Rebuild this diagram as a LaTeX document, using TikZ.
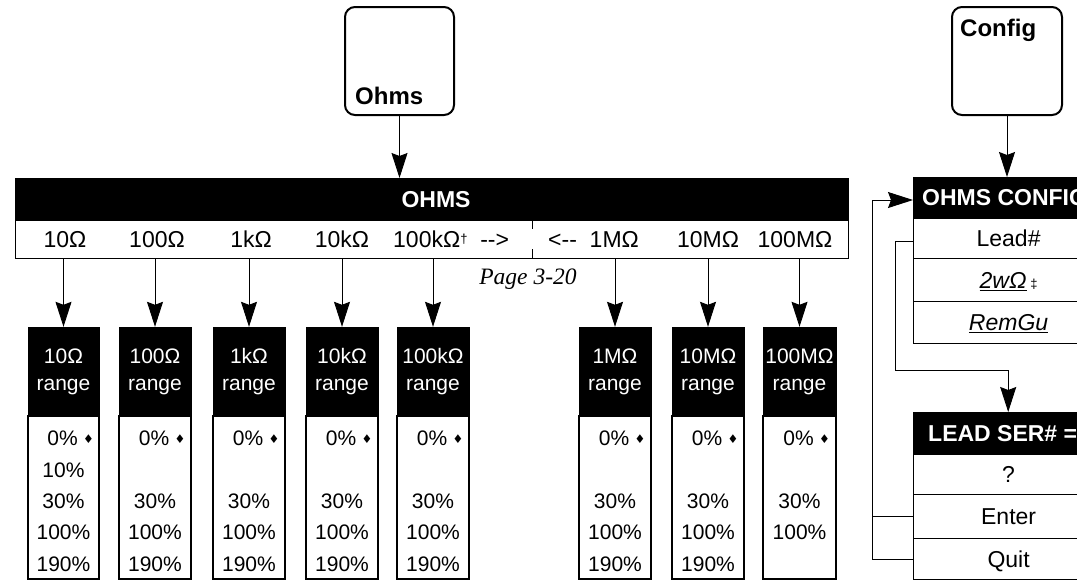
\documentclass[tikz,border=0pt]{standalone}
\usepackage{fontspec}
\setmainfont{Liberation Sans}
\newfontfamily\pgserif{Liberation Serif}
\newfontfamily\dejavu{DejaVu Sans}
\usetikzlibrary{arrows.meta}
\begin{document}
\begin{tikzpicture}[x=1pt,y=-1pt,
  arr/.style={-{Stealth[length=25pt,width=16pt,inset=3pt]}, line width=0.9pt},
  conn/.style={line width=0.9pt},
  keybox/.style={draw, line width=2pt, rounded corners=10pt, minimum height=108pt, inner sep=0},
  keytxt/.style={font=\bfseries\fontsize{24}{28}\selectfont, inner sep=0},
  blackbar/.style={fill=black, draw=black, inner sep=0},
  rowbox/.style={draw, line width=1.2pt, inner sep=0, fill=white},
  rowtxt/.style={font=\fontsize{23}{27}\selectfont, inner sep=0, text height=16.5pt, text depth=0pt},
  hdtxt/.style={font=\bfseries\fontsize{23}{27}\selectfont, text=white, inner sep=0, text height=16.5pt, text depth=0pt},
  rtxt/.style={font=\fontsize{21}{27}\selectfont, inner sep=0, anchor=base},
  rhd/.style={blackbar, font=\fontsize{21}{27}\selectfont, text=white, align=center, minimum height=89pt},
  small/.style={font=\dejavu\fontsize{12}{12}\selectfont, inner sep=0},
]
\useasboundingbox (0,0) rectangle (1077,582);
\clip (0,0) rectangle (1077,582);

% key boxes
\node[keybox, minimum width=109pt] (ohmskey) at (399.5,61) {};
\node[keytxt, anchor=base west] (ohmskeytxt) at (355,104) {Ohms};
\node[keybox, minimum width=110pt] (cfgkey) at (1007,61) {};
\node[keytxt, anchor=base west] (cfgkeytxt) at (960,36) {Config};

% OHMS menu
\node[blackbar, minimum width=833pt, minimum height=42pt, anchor=north west] (ohms) at (15,178) {};
\node[hdtxt] (ohmslbl) at (436,199) {OHMS};
\node[rowbox, minimum width=833pt, minimum height=38pt, anchor=north west] (ohmsrow) at (15,220) {};
\node[rowtxt] (r1) at (65,239) {10Ω};
\node[rowtxt] (r2) at (157,239) {100Ω};
\node[rowtxt] (r3) at (251,239) {1kΩ};
\node[rowtxt] (r4) at (342,239) {10kΩ};
\node[rowtxt, anchor=west] (r5) at (393,239) {100kΩ{\fontsize{13}{13}\selectfont\raisebox{4pt}{†}}\ \ -{}-{}>};
\node[rowtxt, anchor=west] (r6) at (548,239) {<-{}-\ \ 1MΩ};
\node[rowtxt] (r7) at (708,239) {10MΩ};
\node[rowtxt] (r8) at (795,239) {100MΩ};
\coordinate (sepT) at (532,220);
\coordinate (sepB) at (532,258);
\draw[conn] (sepT) -- ++(0,9);
\draw[conn] (sepB) -- ++(0,-9);
\node[font=\pgserif\itshape\fontsize{23.5}{27}\selectfont, anchor=base, inner sep=0] (page) at (528,284) {Page 3-20};

\draw[arr] (ohmskey.south) -- (ohmskey.south |- ohms.north);

% range boxes
\foreach \i/\cx/\w/\lab in {1/63.5/71/10Ω, 2/155/72/100Ω, 3/249/72/1kΩ, 4/342/72/10kΩ, 5/433/72/100kΩ, 6/615/72/1MΩ, 7/708/72/10MΩ, 8/799.5/73/100MΩ}{
  \node[rhd, minimum width=\w pt] (hd\i) at (\cx,371.5) {\lab\\range};
  \node[rowbox, minimum width=\w pt, minimum height=163pt] (bd\i) at (\cx,497.5) {};
  \draw[arr] (ohmsrow.south -| hd\i.north) -- (hd\i.north);
  \node[rtxt] (z\i) at (\cx-1,445) {0\%};
  \node[small, anchor=base west, xshift=5pt, yshift=2pt] (d\i) at (z\i.base east) {♦};
  \ifnum\i=1 \node[rtxt] (t\i) at (\cx,477) {10\%}; \fi
  \node[rtxt] (th\i) at (\cx,508) {30\%};
  \node[rtxt] (h\i) at (\cx,539) {100\%};
  \ifnum\i<8 \node[rtxt] (n\i) at (\cx,571) {190\%}; \fi
}

% OHMS CONFIG menu
\node[blackbar, minimum width=190pt, minimum height=41pt, anchor=north west] (ohc) at (913,177) {};
\node[hdtxt, anchor=west] (ohctxt) at (922,197.5) {OHMS CONFIG};
\node[rowbox, rowtxt, minimum width=190pt, minimum height=40pt, anchor=north west] (lead) at (913,218) {Lead\#};
\node[rowbox, rowtxt, minimum width=190pt, minimum height=43pt, anchor=north west] (twow) at (913,258) {\underline{\textit{2wΩ}}\,{\fontsize{13}{13}\selectfont‡}};
\node[rowbox, rowtxt, minimum width=190pt, minimum height=42pt, anchor=north west] (remgu) at (913,301) {\underline{\textit{RemGu}}};

\draw[arr] (cfgkey.south) -- (cfgkey.south |- ohc.north);

% LEAD SER menu
\node[blackbar, minimum width=190pt, minimum height=42pt, anchor=north west] (lsh) at (913,412) {};
\node[hdtxt, anchor=west] (lshtxt) at (928,433) {LEAD SER\# =};
\node[rowbox, rowtxt, minimum width=190pt, minimum height=40pt, anchor=north west] (q) at (913,454) {?};
\node[rowbox, rowtxt, minimum width=190pt, minimum height=44pt, anchor=north west] (enter) at (913,494) {Enter};
\node[rowbox, rowtxt, minimum width=190pt, minimum height=41pt, anchor=north west] (quit) at (913,538) {Quit};

\coordinate (lc) at (895,370);
\draw[arr] ([yshift=-3pt]lead.west) -| (lc) -| (lsh.north);
\coordinate (ox) at (872,200);
\draw[conn] (enter.west) -- (enter.west -| ox);
\draw[arr] (quit.west) -| (ox) -- (ox -| ohc.west);
\end{tikzpicture}
\end{document}
